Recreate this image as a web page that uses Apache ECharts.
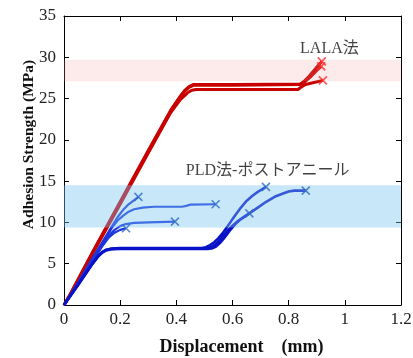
<!DOCTYPE html>
<html>
<head>
<meta charset="utf-8">
<script src="https://cdn.jsdelivr.net/npm/echarts@6/dist/echarts.min.js"></script>
<style>
  html, body { margin: 0; padding: 0; background: #fff; }
  #container { width: 413px; height: 358px; }
</style>
</head>
<body>
<div id="container"></div>
<script>
// 数据：位移(mm) vs 附着强度(MPa)
var lalaCurves = [
    [[0,0],[0.02,1.1],[0.1,6.2],[0.2,12.4],[0.3,18.6],[0.38,23.5],[0.41,25.0],[0.43,25.9],[0.445,26.35],[0.46,26.6],[0.6,26.6],[0.84,26.7],[0.855,27.1],[0.87,27.6],[0.89,28.4],[0.905,29.0],[0.918,29.5]],
    [[0,0],[0.02,1.2],[0.1,6.3],[0.2,12.5],[0.3,18.7],[0.38,23.6],[0.41,25.1],[0.43,26.0],[0.445,26.45],[0.46,26.7],[0.6,26.7],[0.845,26.75],[0.86,27.1],[0.88,27.7],[0.9,28.4],[0.916,28.9]],
    [[0,0],[0.02,1.1],[0.1,6.1],[0.2,12.2],[0.3,18.4],[0.38,23.3],[0.415,24.9],[0.44,25.7],[0.455,26.0],[0.47,26.1],[0.6,26.1],[0.833,26.1],[0.845,26.4],[0.86,26.7],[0.89,26.95],[0.922,27.2]]
];
var pldCurves = [
    [[0,0],[0.05,2.7],[0.1,5.6],[0.14,7.8],[0.17,9.5],[0.19,10.6],[0.21,11.5],[0.23,12.2],[0.25,12.7],[0.265,13.1]],
    [[0,0],[0.05,2.7],[0.1,5.5],[0.14,7.7],[0.17,9.3],[0.19,10.2],[0.21,10.8],[0.23,11.3],[0.25,11.6],[0.28,11.8],[0.32,11.9],[0.42,11.9],[0.435,12.0],[0.45,12.15],[0.54,12.2]],
    [[0,0],[0.05,2.6],[0.1,5.3],[0.14,7.4],[0.16,8.4],[0.18,9.1],[0.2,9.55],[0.22,9.8],[0.25,9.95],[0.3,10.0],[0.395,10.1]],
    [[0,0],[0.05,2.5],[0.1,5.2],[0.14,7.3],[0.16,8.2],[0.18,8.75],[0.2,9.1],[0.221,9.3]]
];
var pldAnnealCurves = [
    [[0,0],[0.05,2.5],[0.1,5.0],[0.12,5.9],[0.135,6.4],[0.15,6.7],[0.17,6.85],[0.2,6.9],[0.49,6.9],[0.505,7.0],[0.52,7.25],[0.535,7.6],[0.55,8.1],[0.565,8.7],[0.58,9.4],[0.6,10.4],[0.615,11.1],[0.63,11.8],[0.65,12.6],[0.67,13.2],[0.69,13.7],[0.705,14.0],[0.719,14.3]],
    [[0,0],[0.05,2.4],[0.1,4.9],[0.12,5.8],[0.135,6.3],[0.15,6.6],[0.17,6.75],[0.2,6.8],[0.51,6.8],[0.525,6.85],[0.54,7.05],[0.555,7.5],[0.57,8.1],[0.59,9.0],[0.61,9.8],[0.63,10.4],[0.66,11.1],[0.69,11.8],[0.72,12.5],[0.75,13.1],[0.78,13.5],[0.8,13.75],[0.82,13.85],[0.861,13.85]],
    [[0,0],[0.05,2.45],[0.1,4.95],[0.12,5.85],[0.135,6.35],[0.15,6.65],[0.17,6.8],[0.2,6.85],[0.5,6.85],[0.515,6.9],[0.53,7.1],[0.545,7.5],[0.56,8.1],[0.58,8.9],[0.6,9.6],[0.62,10.2],[0.64,10.65],[0.66,11.1]]
];
var lalaBand = [27.1, 29.7];
var pldBand = [9.4, 14.5];
var labelTexts = ['LALA法', 'PLD法-ポストアニール'];
var labelPoints = [[0.945, 31.0], [0.725, 16.3]];
var xTicks = [0, 1.2, 0.2];
var yTicks = [0, 35, 5];

var dom = document.getElementById("container");
var myChart = echarts.init(dom);
var serif = "'Liberation Serif', 'Noto Sans CJK JP', serif";
var crossPath = 'path://M0,0L10,10M10,0L0,10';

function lastPoints(list) {
    return list.map(function (c) { return c[c.length - 1]; });
}

function axisX(pos, showLabel) {
    return {
        type: 'value', position: pos,
        min: xTicks[0], max: xTicks[1], interval: xTicks[2],
        axisLine: { show: true, onZero: false, lineStyle: { color: '#000', width: 1 } },
        axisTick: { show: true, inside: true, length: 5, lineStyle: { color: '#000' } },
        axisLabel: { show: showLabel, fontFamily: serif, fontSize: 17, color: '#222', margin: 6 },
        splitLine: { show: false }
    };
}
function axisY(pos, showLabel) {
    return {
        type: 'value', position: pos,
        min: yTicks[0], max: yTicks[1], interval: yTicks[2],
        axisLine: { show: true, onZero: false, lineStyle: { color: '#000', width: 1 } },
        axisTick: { show: true, inside: true, length: 5, lineStyle: { color: '#000' } },
        axisLabel: { show: showLabel, fontFamily: serif, fontSize: 17, color: '#222', margin: 8 },
        splitLine: { show: false }
    };
}

var series = [];
lalaCurves.forEach(function (c) {
    series.push({
        type: 'line', data: c, symbol: 'none',
        lineStyle: { color: '#c80000', width: 3, join: 'round' }, z: 2, animation: false
    });
});
pldCurves.forEach(function (c) {
    series.push({
        type: 'line', data: c, symbol: 'none',
        lineStyle: { color: '#1c34dc', width: 2.2, join: 'round' }, z: 2, animation: false
    });
});
pldAnnealCurves.forEach(function (c) {
    series.push({
        type: 'line', data: c, symbol: 'none',
        lineStyle: { color: '#0a12c8', width: 2.6, join: 'round' }, z: 2, animation: false
    });
});
// 范围带（半透明，盖在线上）
series.push({
    type: 'line', data: [], z: 3, animation: false,
    markArea: {
        silent: true, z: 3,
        data: [
            [{ yAxis: lalaBand[0], itemStyle: { color: 'rgba(245,150,150,0.2)' } }, { yAxis: lalaBand[1] }],
            [{ yAxis: pldBand[0], itemStyle: { color: 'rgba(117,197,242,0.4)' } }, { yAxis: pldBand[1] }]
        ]
    }
});
// 终点 ×
series.push({
    type: 'scatter', data: lastPoints(lalaCurves), symbol: crossPath, symbolSize: 8, z: 5,
    itemStyle: { color: 'rgba(0,0,0,0)', borderColor: '#ff2a2a', borderWidth: 1.6 }, animation: false
});
series.push({
    type: 'scatter', data: lastPoints(pldCurves).concat(lastPoints(pldAnnealCurves)),
    symbol: crossPath, symbolSize: 8, z: 5,
    itemStyle: { color: 'rgba(0,0,0,0)', borderColor: '#2f6cc4', borderWidth: 1.6 }, animation: false
});
// 文字标注
series.push({
    type: 'scatter', symbolSize: 0, z: 6, animation: false, silent: true,
    data: labelPoints.map(function (p, i) { return { value: p, name: labelTexts[i] }; }),
    label: {
        show: true, position: 'inside', formatter: '{b}',
        fontFamily: serif, fontSize: 16, color: '#111'
    }
});

var option = {
    backgroundColor: '#fff',
    animation: false,
    grid: { left: 64, right: 12, top: 16, bottom: 53, containLabel: false, outerBoundsMode: 'none' },
    xAxis: [
        Object.assign(axisX('bottom', true), {
            name: 'Displacement\u3000(mm)', nameLocation: 'middle', nameGap: 33, nameMoveOverlap: false,
            nameTextStyle: { fontFamily: serif, fontSize: 18, fontWeight: 'bold', color: '#111', padding: [0, 0, 0, 18] }
        }),
        axisX('top', false)
    ],
    yAxis: [
        Object.assign(axisY('left', true), {
            name: 'Adhesion Strength (MPa)', nameLocation: 'middle', nameGap: 27, nameMoveOverlap: false,
            nameTextStyle: { fontFamily: serif, fontSize: 15.5, fontWeight: 'bold', color: '#111', padding: [0, 0, 0, 32] }
        }),
        axisY('right', false)
    ],
    series: series
};
myChart.setOption(option);
</script>
</body>
</html>
